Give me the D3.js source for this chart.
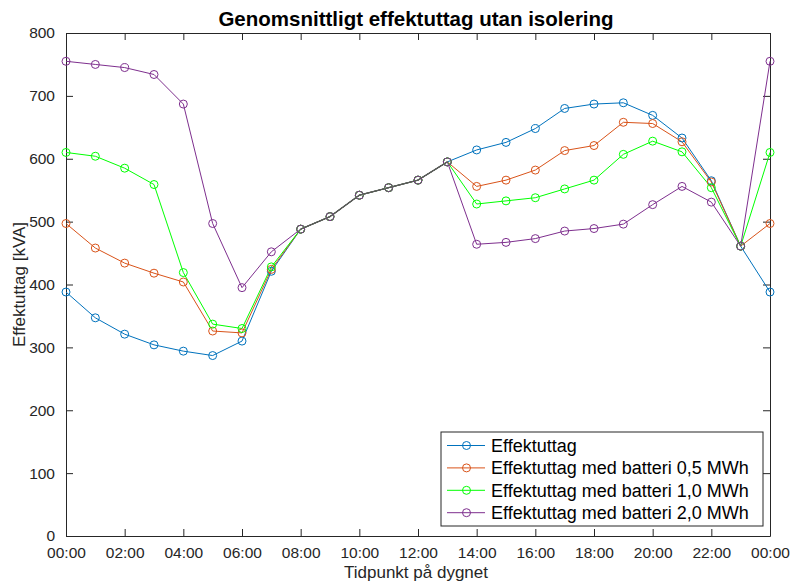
<!DOCTYPE html>
<meta charset="utf-8">
<style>
  body { margin: 0; background: #fff; }
  svg { font-family: "Liberation Sans", Arial, Helvetica, sans-serif; }
  .axis path, .axis line { stroke: #262626; }
  .axis text { fill: #262626; font-size: 15.5px; }
</style>
<body></body>
<script src="https://d3js.org/d3.v7.min.js"></script>
<script>
// hour of day (0..24) and the four series
var hours = [0,1,2,3,4,5,6,7,8,9,10,11,12,13,14,15,16,17,18,19,20,21,22,23,24];
var effekt = [388,347,321,304,294,287,310,421,488,508,542,554,566,595,614,626,648,680,687,689,669,633,565,461,388];
var bat05  = [497,458,434,418,404,326,323,424,488,508,542,554,566,595,556,566,582,613,621,658,656,627,563,461,497];
var bat10  = [610,604,585,559,419,337,330,428,488,508,542,554,566,595,528,533,538,552,566,607,628,611,554,461,610];
var bat20  = [755,750,745,734,687,497,395,452,488,508,542,554,566,595,464,467,473,485,489,496,527,556,531,461,755];
var names = ["Effektuttag", "Effektuttag med batteri 0,5 MWh", "Effektuttag med batteri 1,0 MWh", "Effektuttag med batteri 2,0 MWh"];
var colors = ["#0072BD", "#D95319", "#00FF00", "#7E2F8E"];
var xTicks = [0,2,4,6,8,10,12,14,16,18,20,22,24];
var yTicks = [0,100,200,300,400,500,600,700,800];

var margin = {top: 33, right: 20, bottom: 50, left: 66};
var width = 790 - margin.left - margin.right,
    height = 586 - margin.top - margin.bottom;

var svg = d3.select("body").append("svg")
    .attr("width", 790)
    .attr("height", 586);

var g = svg.append("g")
    .attr("transform", "translate(" + margin.left + "," + margin.top + ")");

var x = d3.scaleLinear().domain([0, 24]).range([0, width]);
var y = d3.scaleLinear().domain([0, 800]).range([height, 0]);

var fmtHour = function(h) { return d3.format("02d")(h % 24) + ":00"; };

// axes (box with inward ticks, like matlab)
g.append("g").attr("class", "axis")
  .attr("transform", "translate(0," + height + ")")
  .call(d3.axisBottom(x).tickValues(xTicks).tickFormat(fmtHour).tickSizeInner(-7).tickSizeOuter(0).tickPadding(11));
g.append("g").attr("class", "axis")
  .call(d3.axisTop(x).tickValues(xTicks).tickFormat("").tickSizeInner(-7).tickSizeOuter(0));
g.append("g").attr("class", "axis")
  .call(d3.axisLeft(y).tickValues(yTicks).tickSizeInner(-7).tickSizeOuter(0).tickPadding(11));
g.append("g").attr("class", "axis")
  .attr("transform", "translate(" + width + ",0)")
  .call(d3.axisRight(y).tickValues(yTicks).tickFormat("").tickSizeInner(-7).tickSizeOuter(0));

var series = [effekt, bat05, bat10, bat20].map(function(vals, i) {
  return {name: names[i], color: colors[i], points: hours.map(function(h, j) { return {h: h, v: vals[j]}; })};
});

var line = d3.line().x(function(d) { return x(d.h); }).y(function(d) { return y(d.v); });

g.selectAll(".line").data(series).enter().append("path")
  .attr("class", "line")
  .attr("d", function(d) { return line(d.points); })
  .attr("fill", "none")
  .attr("stroke", function(d) { return d.color; })
  .attr("stroke-width", 1);

// where all four series coincide the overlapping lines render dark gray
var same = hours.map(function(h, j) {
  return effekt[j] === bat05[j] && bat05[j] === bat10[j] && bat10[j] === bat20[j];
});
var shared = hours.map(function(h, j) { return {h: h, v: effekt[j], ok: same[j]}; });
g.append("path")
  .attr("d", d3.line().defined(function(d) { return d.ok; })
    .x(function(d) { return x(d.h); }).y(function(d) { return y(d.v); })(shared))
  .attr("fill", "none")
  .attr("stroke", "#5a5a5a")
  .attr("stroke-width", 1.3);

series.forEach(function(s) {
  g.selectAll(null).data(s.points).enter().append("circle")
    .attr("cx", function(d) { return x(d.h); })
    .attr("cy", function(d) { return y(d.v); })
    .attr("r", 4)
    .attr("fill", "none")
    .attr("stroke", s.color)
    .attr("stroke-width", 1);
});

// titles
svg.append("text")
  .attr("x", margin.left + width / 2 - 2).attr("y", 26)
  .attr("text-anchor", "middle")
  .attr("font-size", "20.5px").attr("font-weight", "bold")
  .attr("fill", "#000")
  .text("Genomsnittligt effektuttag utan isolering");

svg.append("text")
  .attr("x", margin.left + width / 2 - 2).attr("y", 578)
  .attr("text-anchor", "middle")
  .attr("font-size", "17px").attr("fill", "#262626")
  .text("Tidpunkt på dygnet");

svg.append("text")
  .attr("transform", "translate(25," + (margin.top + height / 2) + ") rotate(-90)")
  .attr("text-anchor", "middle")
  .attr("font-size", "17px").attr("fill", "#262626")
  .text("Effektuttag [kVA]");

// legend
var legend = svg.append("g").attr("transform", "translate(441,432)");
legend.append("rect")
  .attr("width", 322).attr("height", 94)
  .attr("fill", "#fff").attr("stroke", "#262626").attr("stroke-width", 1);

var item = legend.selectAll(".item").data(series).enter().append("g")
  .attr("transform", function(d, i) { return "translate(0," + (13.5 + i * 22.4) + ")"; });
item.append("line")
  .attr("x1", 6).attr("x2", 44)
  .attr("stroke", function(d) { return d.color; });
item.append("circle")
  .attr("cx", 25.5).attr("r", 4)
  .attr("fill", "none").attr("stroke", function(d) { return d.color; });
item.append("text")
  .attr("x", 50).attr("dy", "0.36em")
  .attr("font-size", "18px").attr("fill", "#000")
  .text(function(d) { return d.name; });
</script>
